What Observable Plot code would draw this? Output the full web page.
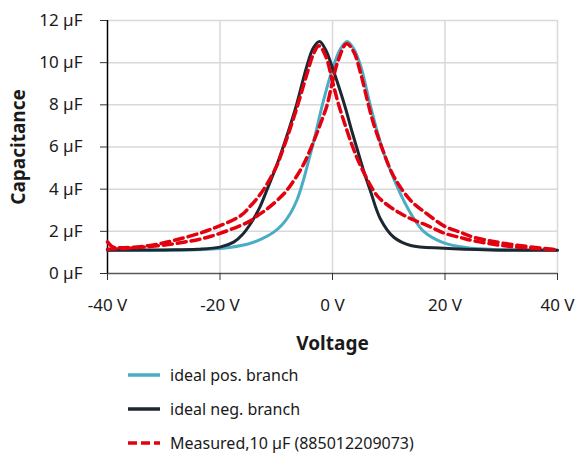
<!DOCTYPE html>
<html>
<head>
<meta charset="utf-8">
<script src="https://cdn.jsdelivr.net/npm/d3@7"></script>
<script src="https://cdn.jsdelivr.net/npm/@observablehq/plot@0.6"></script>
<style>
  html, body { margin: 0; padding: 0; background: #fff; }
  body { width: 577px; height: 457px; overflow: hidden; font-family: "Noto Sans", sans-serif; }
  #legend { margin-left: 127px; }
  .row { display: flex; align-items: center; height: 34px; font-size: 16px; color: #1a1a1a; }
  .row svg { margin-right: 9px; }
</style>
</head>
<body>
<div id="chart"></div>
<div id="legend"></div>
<script>
// Tick values
const voltTicks = [-40, -20, 0, 20, 40];
const capTicks = [0, 2, 4, 6, 8, 10, 12];

// Series names
const seriesNames = ["ideal pos. branch", "ideal neg. branch", "Measured,10 µF (885012209073)"];

// ideal pos. branch (voltage V, capacitance µF)
const posV = [-40,-30,-22,-18,-15,-12.5,-10.5,-9,-7.5,-6.3,-5.2,-4.2,-3.3,-1.8,0,1.4,2.6,3.8,5,6.7,8.2,9.4,10.9,12.4,13.9,16.2,19.8,24,28,34,40];
const posC = [1.1,1.1,1.15,1.25,1.4,1.65,1.95,2.3,2.85,3.5,4.4,5.4,6.3,8.0,9.7,10.65,11.0,10.65,9.85,8.0,6.5,5.5,4.5,3.6,2.85,2.0,1.45,1.22,1.15,1.12,1.1];

// ideal neg. branch
const negV = [-40,-30,-24,-20,-17.5,-16,-14.6,-13,-11.6,-10.1,-8.65,-6.4,-4.6,-3.4,-2.3,-1.2,0,1.2,2.3,3.5,4.5,5.5,6.7,8.5,10.9,13.9,19.8,28,40];
const negC = [1.1,1.12,1.15,1.25,1.5,1.85,2.35,3.1,4.0,5.0,6.1,8.0,9.8,10.7,11.0,10.6,9.75,8.8,7.85,6.7,5.8,4.9,3.95,2.6,1.72,1.33,1.2,1.12,1.1];

// Measured, sweep A (peak at negative voltage)
const measAV = [-40,-39,-37.7,-32.4,-28.2,-22.2,-16.3,-14.6,-13.3,-12.2,-10.1,-8.65,-6.4,-4.5,-3.4,-2.4,-1.2,0,1.1,2.3,3.6,5,7.9,10.3,12.1,13.9,16.8,20,22.8,25.1,31,40];
const measAC = [1.5,1.25,1.22,1.33,1.57,2.04,2.75,3.2,3.6,4.0,5.0,6.0,7.8,9.5,10.4,10.8,10.3,9.1,8.0,7.0,6.0,5.1,3.7,3.15,2.85,2.6,2.28,1.9,1.7,1.55,1.3,1.12];

// Measured, sweep B (peak at positive voltage)
const measBV = [-40,-35,-28.2,-22.2,-16.3,-14.6,-13.3,-11.6,-8.65,-6.9,-5.1,-3.3,-2,-0.95,0,1,2.5,3.8,5,6.2,7.2,8.2,8.8,10.9,13.9,16.8,20,22.8,25.1,31,40];
const measBC = [1.15,1.22,1.41,1.72,2.28,2.5,2.75,3.07,3.78,4.4,5.2,6.3,7.2,8.0,9.1,10.1,10.9,10.5,9.5,8.2,7.2,6.4,5.95,4.6,3.46,2.83,2.23,1.95,1.72,1.41,1.12];

const colors = { pos: "#4bacc6", neg: "#1d2731", meas: "#e3000f" };

const toRows = (V, C) => V.map((v, i) => ({ v, c: C[i] }));
const pos = toRows(posV, posC);
const neg = toRows(negV, negC);
const measA = toRows(measAV, measAC);
const measB = toRows(measBV, measBC);

const dash = "9,5";

const chart = Plot.plot({
  width: 577,
  height: 358,
  marginLeft: 107,
  marginRight: 20,
  marginTop: 20,
  marginBottom: 85,
  x: { domain: [-40, 40] },
  y: { domain: [0, 12] },
  style: { fontFamily: "Noto Sans", fontSize: "16px", color: "#1a1a1a", background: "#fff" },
  marks: [
    Plot.gridY(capTicks.filter(d => d > 0), { stroke: "#d9d9d9", strokeOpacity: 1, strokeWidth: 1.5 }),
    Plot.gridX(voltTicks.filter(d => d > -40), { stroke: "#d9d9d9", strokeOpacity: 1, strokeWidth: 1.5 }),
    Plot.ruleY([0], { stroke: "#595959", strokeWidth: 1.5 }),
    Plot.ruleX([-40], { stroke: "#000", strokeWidth: 1.5 }),
    Plot.axisY(capTicks, { tickSize: 7, tickPadding: 18, tickFormat: d => `${d} µF`, label: null, fontSize: 17, stroke: "#333" }),
    Plot.axisX(voltTicks, { tickSize: 7, tickPadding: 18, tickFormat: d => `${d} V`, label: null, fontSize: 17, stroke: "#333" }),
    Plot.line(pos, { x: "v", y: "c", stroke: colors.pos, strokeWidth: 3, curve: "catmull-rom" }),
    Plot.line(neg, { x: "v", y: "c", stroke: colors.neg, strokeWidth: 3, curve: "catmull-rom" }),
    Plot.line(measA, { x: "v", y: "c", stroke: colors.meas, strokeWidth: 3.5, strokeDasharray: dash, curve: "catmull-rom" }),
    Plot.line(measB, { x: "v", y: "c", stroke: colors.meas, strokeWidth: 3.5, strokeDasharray: dash, curve: "catmull-rom" }),
    Plot.text(["Voltage"], { frameAnchor: "bottom", lineAnchor: "middle", dy: 70, fontWeight: "bold", fontSize: 19, fill: "#1a1a1a" }),
    Plot.text(["Capacitance"], { frameAnchor: "left", lineAnchor: "middle", textAnchor: "middle", dx: -89, rotate: -90, fontWeight: "bold", fontSize: 19, fill: "#1a1a1a" })
  ]
});
document.getElementById("chart").appendChild(chart);

// Legend
const legend = document.getElementById("legend");
const legendStyles = [
  { color: colors.pos, dash: null },
  { color: colors.neg, dash: null },
  { color: colors.meas, dash: "9,4" }
];
seriesNames.forEach((name, i) => {
  const row = document.createElement("div");
  row.className = "row";
  const s = legendStyles[i];
  row.innerHTML = `<svg width="34" height="6"><line x1="1" y1="3" x2="33" y2="3" stroke="${s.color}" stroke-width="3.5" ${s.dash ? `stroke-dasharray="${s.dash}"` : ""}/></svg><span>${name}</span>`;
  legend.appendChild(row);
});
</script>
</body>
</html>
